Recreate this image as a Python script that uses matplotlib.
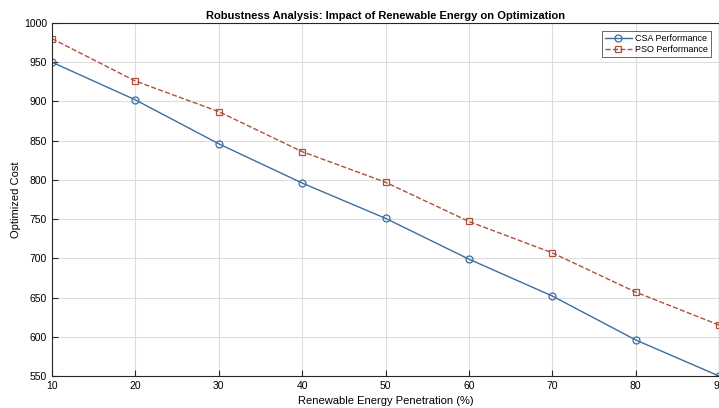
import matplotlib.pyplot as plt
import numpy as np

plt.rcParams['font.family'] = ['Liberation Sans', 'DejaVu Sans']

penetration = [10, 20, 30, 40, 50, 60, 70, 80, 90]
csa_cost = [950, 902, 846, 796, 751, 699, 652, 596, 550]
pso_cost = [980, 926, 887, 836, 797, 747, 707, 657, 615]

fig = plt.figure(figsize=(7.19, 4.08), dpi=100)
ax = fig.add_axes([52/719, 1 - 376/408, 667/719, 353/408])

ax.plot(penetration, csa_cost, '-o', color='#3b6ea0', lw=1.0, ms=5,
        markerfacecolor='none', markeredgewidth=0.9, label='CSA Performance')
ax.plot(penetration, pso_cost, '--s', color='#b0503c', lw=1.0, ms=4.5,
        markerfacecolor='none', markeredgewidth=0.9, label='PSO Performance')

ax.set_xlim(10, 90)
ax.set_ylim(550, 1000)
ax.set_xticks(np.arange(10, 91, 10))
ax.set_yticks(np.arange(550, 1001, 50))
ax.grid(True, color='#dddddd', lw=0.8)
ax.tick_params(direction='in', labelsize=7.5, length=4, color='#262626')
for s in ax.spines.values():
    s.set_color('#262626')
    s.set_linewidth(0.8)

ax.set_xlabel('Renewable Energy Penetration (%)', fontsize=8, labelpad=4)
ax.set_ylabel('Optimized Cost', fontsize=8, labelpad=2)
ax.set_title('Robustness Analysis: Impact of Renewable Energy on Optimization',
             fontsize=8, fontweight='bold', pad=3)

leg = ax.legend(loc='upper right', fontsize=6.5, frameon=True, fancybox=False,
                edgecolor='#262626', handlelength=3, handletextpad=0.4,
                borderaxespad=0.9, borderpad=0.3, labelspacing=0.25)
leg.get_frame().set_linewidth(0.6)

fig.savefig('out.png', dpi=100)
